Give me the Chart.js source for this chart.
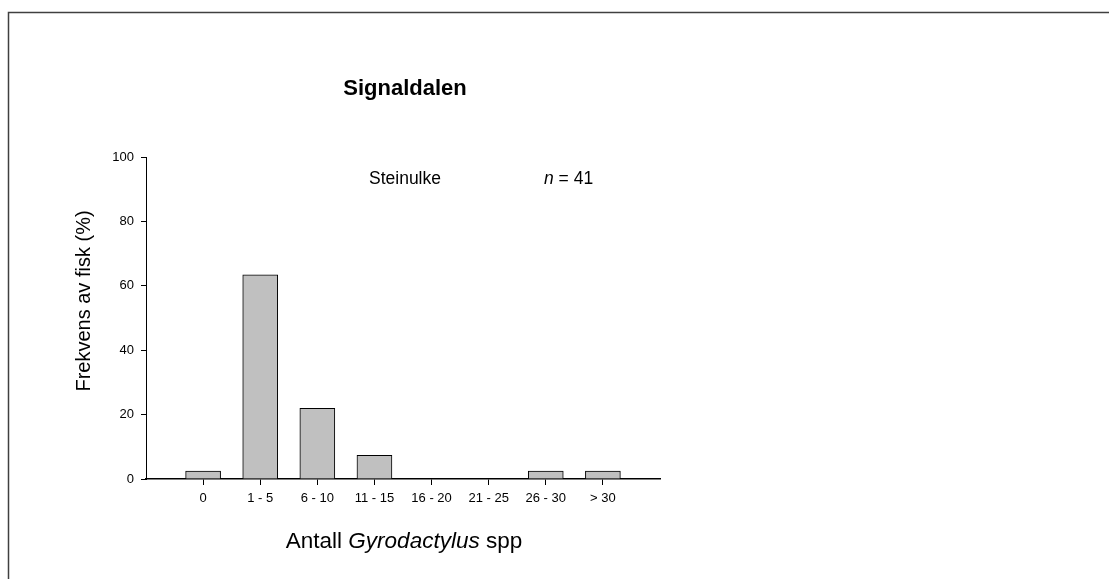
<!DOCTYPE html>
<html>
<head>
<meta charset="utf-8">
<script src="https://cdn.jsdelivr.net/npm/chart.js@4"></script>
<style>
html,body{margin:0;padding:0;background:#fff;}
#wrap{width:1109px;height:579px;position:relative;}
</style>
</head>
<body>
<div id="wrap"><canvas id="c" width="1109" height="579"></canvas></div>
<script>
// ---- data ----
const categories = ['0', '1 - 5', '6 - 10', '11 - 15', '16 - 20', '21 - 25', '26 - 30', '> 30'];
const frequencies = [2.44, 63.41, 21.95, 7.32, 0, 0, 2.44, 2.44];
const yTicks = [0, 20, 40, 60, 80, 100];
const chartTitle = 'Signaldalen';
const speciesLabel = 'Steinulke';
const sampleSize = 41;
const yTitle = 'Frekvens av fisk (%)';
const xTitleParts = [['Antall ', false], ['Gyrodactylus', true], [' spp', false]];

const FONT = 'Arial, "Liberation Sans", Helvetica, sans-serif';

const textPlugin = {
  id: 'texts',
  afterDraw(chart) {
    const ctx = chart.ctx;
    const ca = chart.chartArea;
    const cx = (ca.left + ca.right) / 2;
    ctx.save();
    // frame
    ctx.strokeStyle = '#404040';
    ctx.lineWidth = 1.5;
    ctx.beginPath();
    ctx.moveTo(8.5, 579);
    ctx.lineTo(8.5, 12.5);
    ctx.lineTo(1109, 12.5);
    ctx.stroke();

    ctx.fillStyle = '#000';
    ctx.textBaseline = 'alphabetic';
    // title
    ctx.font = 'bold 22px ' + FONT;
    ctx.textAlign = 'center';
    ctx.fillText(chartTitle, cx + 2, 95);

    // species label
    ctx.textAlign = 'left';
    ctx.font = '17.5px ' + FONT;
    ctx.fillText(speciesLabel, 369, 184);
    // n = 41
    ctx.font = 'italic 17.5px ' + FONT;
    let x = 544;
    ctx.fillText('n', x, 184);
    x += ctx.measureText('n').width;
    ctx.font = '17.5px ' + FONT;
    ctx.fillText(' = ' + sampleSize, x, 184);

    // x title
    let total = 0;
    xTitleParts.forEach(p => {
      ctx.font = (p[1] ? 'italic ' : '') + '22.5px ' + FONT;
      total += ctx.measureText(p[0]).width;
    });
    x = cx + 1 - total / 2;
    xTitleParts.forEach(p => {
      ctx.font = (p[1] ? 'italic ' : '') + '22.5px ' + FONT;
      ctx.fillText(p[0], x, 548);
      x += ctx.measureText(p[0]).width;
    });

    // y title
    ctx.save();
    ctx.translate(90, (ca.top + ca.bottom) / 2 - 17);
    ctx.rotate(-Math.PI / 2);
    ctx.textAlign = 'center';
    ctx.font = '20px ' + FONT;
    ctx.fillText(yTitle, 0, 0);
    ctx.restore();
    ctx.restore();
  }
};

new Chart(document.getElementById('c'), {
  type: 'bar',
  data: {
    datasets: [{
      data: categories.map((c, i) => ({ x: i, y: frequencies[i] })),
      backgroundColor: '#c0c0c0',
      borderColor: '#000',
      borderWidth: 1,
      barThickness: 35,
      borderSkipped: 'bottom'
    }]
  },
  options: {
    responsive: false,
    animation: false,
    events: [],
    layout: { padding: { left: 0, right: 449, top: 157, bottom: 0 } },
    plugins: { legend: { display: false }, tooltip: { enabled: false }, title: { display: false } },
    scales: {
      x: {
        type: 'linear',
        min: -1,
        max: 8,
        offset: false,
        afterFit(s) { s.height = 100; },
        afterBuildTicks(s) { s.ticks = []; for (let i = -1; i <= 8; i++) s.ticks.push({ value: i }); },
        ticks: {
          autoSkip: false,
          maxRotation: 0,
          padding: 6,
          color: '#000',
          font: { family: FONT, size: 13 },
          callback: v => (v >= 0 && v < categories.length) ? categories[v] : ''
        },
        grid: {
          offset: false,
          drawOnChartArea: false,
          tickLength: 6,
          tickWidth: 1,
          tickColor: ctx => (ctx.tick && ctx.tick.value >= 0 && ctx.tick.value < categories.length) ? '#000' : 'rgba(0,0,0,0)'
        },
        border: { color: '#000', width: 1.5 }
      },
      y: {
        min: 0,
        max: 100,
        afterFit(s) { s.width = 146; },
        afterBuildTicks(s) { s.ticks = yTicks.map(v => ({ value: v })); },
        ticks: {
          padding: 7,
          color: '#000',
          font: { family: FONT, size: 13 }
        },
        grid: { drawOnChartArea: false, tickLength: 5, tickColor: '#000', tickWidth: 1 },
        border: { color: '#000', width: 1 }
      }
    }
  },
  plugins: [textPlugin]
});
</script>
</body>
</html>
